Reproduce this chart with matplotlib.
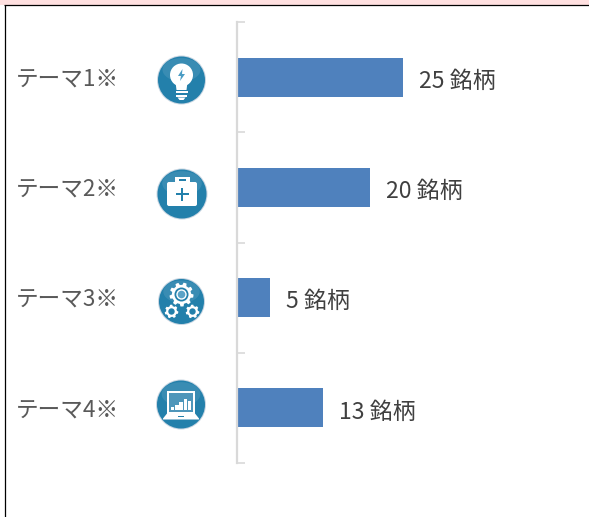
#!/usr/bin python3

# python
import numpy as np
import matplotlib
matplotlib.use("Agg")
import matplotlib.pyplot as plt
from matplotlib.patches import Circle, Ellipse, Polygon, Rectangle, FancyBboxPatch

plt.rcParams['font.family'] = ['Noto Sans CJK JP', 'DejaVu Sans']

# data
categories = ["テーマ1※", "テーマ2※", "テーマ3※", "テーマ4※"]
values = [25, 20, 5, 13]
unit = "銘柄"

BAR_COLOR = "#4F81BD"
ICON_COLOR = "#2380AB"
AXIS_COLOR = "#D9D9D9"

W, H = 589, 517
fig = plt.figure(figsize=(W / 100, H / 100), dpi=100, facecolor="white")

##
# Frame and icons, in pixel coordinates
##
bg = fig.add_axes([0, 0, 1, 1])
bg.set_xlim(0, W)
bg.set_ylim(H, 0)
bg.axis("off")
bg.add_patch(Rectangle((0, 0), W, 5, color="#FFE0E0", lw=0))
bg.plot([4, W], [5.3, 5.3], color="black", lw=0.9, solid_capstyle="butt")
bg.plot([4.5, 4.5], [5, H], color="black", lw=0.9, solid_capstyle="butt")


def disc(cx, cy, r):
    bg.add_patch(Circle((cx, cy), r, fc="#C9D6E2", ec="none", zorder=2))
    bg.add_patch(Circle((cx, cy), r - 1.0, fc=ICON_COLOR, ec="none", zorder=3))
    bg.add_patch(Ellipse((cx, cy - r * 0.42), r * 1.55, r * 0.95, fc="white", ec="none", alpha=0.10, zorder=4))


def white(patch, z=5):
    patch.set(fc="white", ec="none", zorder=z)
    bg.add_patch(patch)


def gear(cx, cy, r, teeth, hole):
    ang = np.linspace(0, 2 * np.pi, teeth * 8, endpoint=False)
    rad = np.where((np.arange(teeth * 8) % 8) < 4, r, r * 0.8)
    white(Polygon(np.c_[cx + rad * np.cos(ang), cy + rad * np.sin(ang)]))
    bg.add_patch(Circle((cx, cy), hole, fc=ICON_COLOR, ec="none", zorder=6))


def icon_bulb(cx, cy):
    disc(cx, cy, 24.5)
    white(Circle((cx, cy - 5), 11.5))
    white(Polygon([(cx - 6, cy + 2), (cx + 6, cy + 2), (cx + 5, cy + 10), (cx - 5, cy + 10)]))
    white(Rectangle((cx - 6, cy + 11), 12, 2.2))
    white(Rectangle((cx - 5.5, cy + 14.5), 11, 2.2))
    white(Polygon([(cx - 4, cy + 17.5), (cx + 4, cy + 17.5), (cx + 2, cy + 20), (cx - 2, cy + 20)]))
    bg.add_patch(Polygon([(cx + 1, cy - 11), (cx - 3.5, cy - 4), (cx - 0.5, cy - 4), (cx - 1.5, cy + 1),
                          (cx + 3.5, cy - 6), (cx + 0.5, cy - 6)], fc="#4A9CC4", ec="none", zorder=6))


def icon_case(cx, cy):
    disc(cx, cy, 25.5)
    white(FancyBboxPatch((cx - 15, cy - 12), 30, 24, boxstyle="round,pad=0,rounding_size=2"))
    white(Rectangle((cx - 7.5, cy - 17), 15, 6))
    bg.add_patch(Rectangle((cx - 3.5, cy - 15), 7, 2, fc=ICON_COLOR, ec="none", zorder=6))
    bg.add_patch(Rectangle((cx - 6.5, cy - 1.2), 13, 2.4, fc=ICON_COLOR, ec="none", zorder=6))
    bg.add_patch(Rectangle((cx - 1.2, cy - 6.5), 2.4, 13, fc=ICON_COLOR, ec="none", zorder=6))


def icon_gears(cx, cy):
    disc(cx, cy, 23.5)
    gear(cx, cy - 7, 12, 9, 7)
    white(Circle((cx, cy - 7), 5.2), 7)
    bg.add_patch(Circle((cx, cy - 7), 3.8, fc="#5BA3C7", ec="none", zorder=8))
    gear(cx - 10, cy + 10, 6.8, 7, 3.2)
    gear(cx + 11, cy + 10, 6.8, 7, 3.2)


def icon_laptop(cx, cy):
    disc(cx, cy, 25)
    white(Rectangle((cx - 14, cy - 14), 28, 23))
    bg.add_patch(Rectangle((cx - 12, cy - 12), 24, 19, fc="#4E96BA", ec="none", zorder=6))
    white(Polygon([(cx - 14, cy + 9), (cx + 14, cy + 9), (cx + 18, cy + 14), (cx + 18, cy + 15),
                   (cx - 18, cy + 15), (cx - 18, cy + 14)]))
    bg.add_patch(Rectangle((cx - 3, cy + 11), 6, 1.6, fc=ICON_COLOR, ec="none", zorder=6))
    for i, h in enumerate([3, 5, 8, 11, 9]):
        white(Rectangle((cx - 10 + i * 4.2, cy + 5 - h), 3.4, h), 7)


icon_bulb(181.5, 80)
icon_case(182, 194)
icon_gears(181.5, 301.5)
icon_laptop(181, 404.5)

##
# Bars
##
ax = fig.add_axes([237 / W, (H - 463) / H, (W - 237) / W, 441 / H])
ax.patch.set_alpha(0)
y_pos = np.arange(len(values)) + 0.5
ax.barh(y_pos, values, height=0.355, color=BAR_COLOR, zorder=2)
ax.set_xlim(0, (W - 237) / 6.64)
ax.set_ylim(len(values), 0)

for spine in ["top", "right", "bottom"]:
    ax.spines[spine].set_visible(False)
ax.spines["left"].set_color(AXIS_COLOR)
ax.spines["left"].set_linewidth(1.6)
ax.set_xticks([])
ax.set_yticks(np.arange(len(values) + 1))
ax.tick_params(axis="y", direction="in", length=6, width=1.2, color=AXIS_COLOR, labelleft=False)

for y, cat, val in zip(y_pos, categories, values):
    ax.annotate(cat, (-221 / (W - 237), y), xycoords=ax.get_yaxis_transform(), xytext=(0, -1.2),
                textcoords="offset points", ha="left", va="center", fontsize=16.3, color="#595959")
    ax.annotate(f"{val} {unit}", (val, y), xytext=(11.5, -3), textcoords="offset points", ha="left", va="center",
                fontsize=16.6, color="#404040")

fig.savefig("out.png", dpi=100)
plt.close()
